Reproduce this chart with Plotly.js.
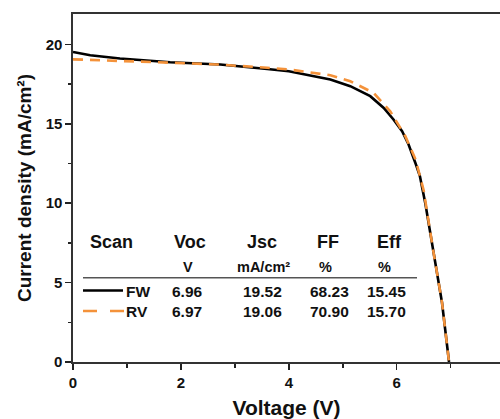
<!DOCTYPE html>
<html>
<head>
<meta charset="utf-8">
<script src="https://cdn.plot.ly/plotly-3.0.1.min.js"></script>
<style>html,body{margin:0;padding:0;background:#fff;}#chart{width:500px;height:419px;}</style>
</head>
<body>
<div id="chart"></div>
<script>
// J-V data
const fwVoltage = [0, 0.32, 0.87, 1.8, 2.73, 3.22, 3.6, 4.0, 4.4, 4.77, 5.14, 5.51, 5.76, 5.94, 6.1, 6.22, 6.35, 6.43, 6.53, 6.68, 6.84, 6.97];
const fwCurrent = [19.52, 19.32, 19.11, 18.88, 18.73, 18.59, 18.45, 18.31, 18.06, 17.79, 17.37, 16.74, 16.0, 15.27, 14.53, 13.7, 12.5, 11.7, 10.0, 6.88, 3.73, 0];
const rvVoltage = [0, 0.3, 0.9, 1.8, 2.7, 3.2, 3.6, 4.0, 4.4, 4.77, 5.14, 5.57, 5.88, 6.16, 6.35, 6.5, 6.68, 6.84, 6.97];
const rvCurrent = [19.06, 19.03, 18.98, 18.85, 18.73, 18.63, 18.53, 18.42, 18.25, 18.06, 17.68, 16.95, 15.79, 14.22, 12.75, 10.8, 6.95, 3.75, 0];

// table
const headers = ['Scan', 'Voc', 'Jsc', 'FF', 'Eff'];
const units = ['', 'V', 'mA/cm²', '%', '%'];
const scans = ['FW', 'RV'];
const voc = ['6.96', '6.97'];
const jsc = ['19.52', '19.06'];
const ff = ['68.23', '70.90'];
const eff = ['15.45', '15.70'];

const xTicks = [0, 2, 4, 6];
const yTicks = [0, 5, 10, 15, 20];

const W = 500, H = 419;
const M = {l: 73, r: 0, t: 14, b: 57};
const px = x => (x - M.l) / (W - M.l - M.r);
const py = y => (H - M.b - y) / (H - M.t - M.b);

const FONT = 'Liberation Sans, Arial, sans-serif';
const ORANGE = '#F4923A';

const traces = [
  {x: fwVoltage, y: fwCurrent, mode: 'lines', name: 'FW', line: {color: '#000', width: 2.6}, showlegend: false},
  {x: rvVoltage, y: rvCurrent, mode: 'lines', name: 'RV', line: {color: ORANGE, width: 2.6, dash: '10px,7px'}, showlegend: false}
];

const colX = [111, 189.5, 262, 328, 389];
const unitX = [0, 188, 263, 325, 384];
const ann = [];
headers.forEach((h, i) => ann.push({text: '<b>' + h + '</b>', x: px(colX[i]), y: py(242), xref: 'paper', yref: 'paper', showarrow: false, xanchor: 'center', yanchor: 'middle', font: {size: 18, color: '#111', family: FONT}}));
units.forEach((u, i) => { if (u) ann.push({text: '<b>' + u + '</b>', x: px(unitX[i]), y: py(267), xref: 'paper', yref: 'paper', showarrow: false, xanchor: 'center', yanchor: 'middle', font: {size: 14.5, color: '#111', family: FONT}}); });
const rowY = [291, 311];
scans.forEach((s, r) => {
  ann.push({text: '<b>' + s + '</b>', x: px(124), y: py(rowY[r]), xref: 'paper', yref: 'paper', showarrow: false, xanchor: 'left', yanchor: 'middle', font: {size: 15.5, color: '#111', family: FONT}});
  [voc[r], jsc[r], ff[r], eff[r]].forEach((v, i) => ann.push({text: '<b>' + v + '</b>', x: px([187, 262, 329, 386][i]), y: py(rowY[r]), xref: 'paper', yref: 'paper', showarrow: false, xanchor: 'center', yanchor: 'middle', font: {size: 15.5, color: '#111', family: FONT}}));
});

const shapes = [
  {type: 'line', xref: 'paper', yref: 'paper', x0: px(83), x1: px(417), y0: py(277.7), y1: py(277.7), line: {color: '#555', width: 1.5}},
  {type: 'line', xref: 'paper', yref: 'paper', x0: px(83), x1: px(123), y0: py(290.5), y1: py(290.5), line: {color: '#000', width: 2.6}},
  {type: 'line', xref: 'paper', yref: 'paper', x0: px(83), x1: px(124), y0: py(311), y1: py(311), line: {color: ORANGE, width: 2.6, dash: '14px,13px'}}
];

const layout = {
  width: W, height: H,
  margin: M,
  paper_bgcolor: '#fff', plot_bgcolor: '#fff',
  font: {family: FONT, color: '#111'},
  showlegend: false,
  xaxis: {
    range: [0, 427 / 53.95], tickvals: xTicks, ticktext: xTicks.map(v => '<b>' + v + '</b>'),
    ticks: 'outside', ticklen: 6, tickwidth: 1.5, tickcolor: '#222',
    minor: {dtick: 1, tick0: 0, ticks: 'outside', ticklen: 4, tickwidth: 1.5, tickcolor: '#222'},
    showline: true, linecolor: '#333', linewidth: 1.6, mirror: true,
    showgrid: false, zeroline: false,
    tickfont: {size: 15, family: FONT, color: '#111'},
    title: {text: '<b>Voltage (V)</b>', font: {size: 21, family: FONT, color: '#111'}, standoff: 11}
  },
  yaxis: {
    range: [0, 348 / 15.88], tickvals: yTicks, ticktext: yTicks.map(v => '<b>' + v + '</b>'),
    ticks: 'outside', ticklen: 6, tickwidth: 1.5, tickcolor: '#222',
    minor: {dtick: 2.5, tick0: 0, ticks: 'outside', ticklen: 3, tickwidth: 1.5, tickcolor: '#222'},
    showline: true, linecolor: '#333', linewidth: 1.6, mirror: false,
    showgrid: false, zeroline: false,
    tickfont: {size: 15, family: FONT, color: '#111'},
    title: {text: '<b>Current density (mA/cm²)</b>', font: {size: 19, family: FONT, color: '#111'}, standoff: 9}
  },
  annotations: ann,
  shapes: shapes
};

Plotly.newPlot('chart', traces, layout, {staticPlot: true, displayModeBar: false});
</script>
</body>
</html>
